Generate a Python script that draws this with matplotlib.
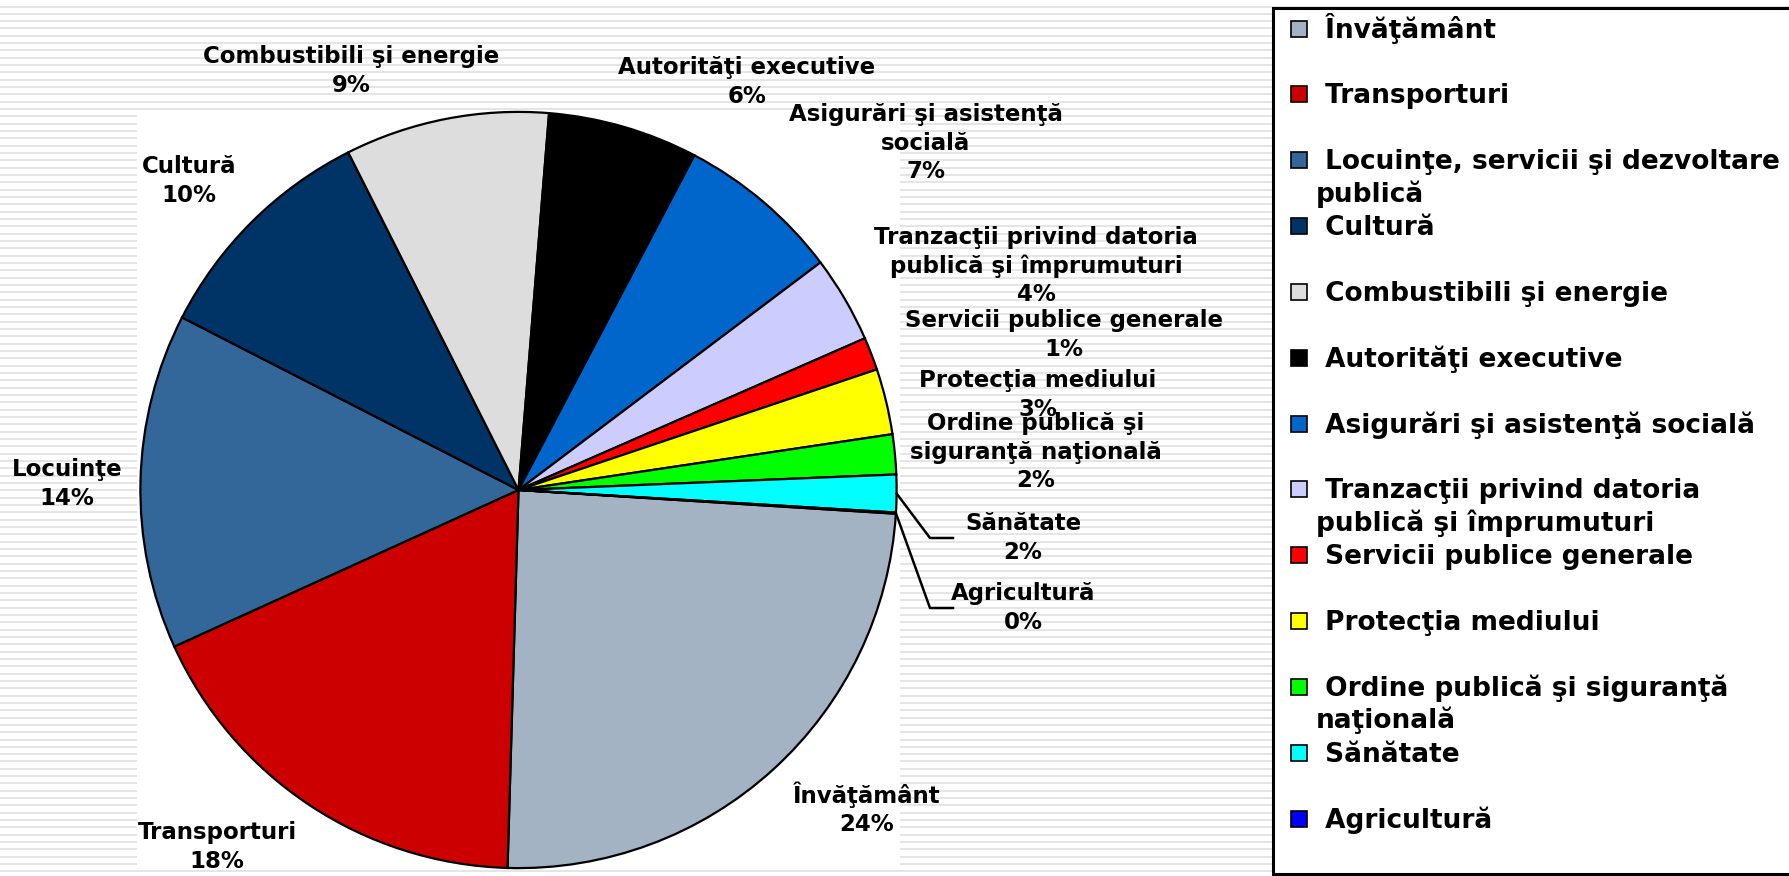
import numpy as np
import matplotlib
matplotlib.use("Agg")
import matplotlib.pyplot as plt
from matplotlib.patches import Rectangle

W, H = 1789, 876

# ── data ──
slice_names = ["Învăţământ", "Transporturi", "Locuinţe", "Cultură",
               "Combustibili şi energie", "Autorităţi executive",
               "Asigurări şi asistenţă\nsocială",
               "Tranzacţii privind datoria\npublică şi împrumuturi",
               "Servicii publice generale", "Protecţia mediului",
               "Ordine publică şi\nsiguranţă naţională", "Sănătate", "Agricultură"]
legend_names = ["Învăţământ", "Transporturi", "Locuinţe, servicii şi dezvoltare\npublică",
                "Cultură", "Combustibili şi energie", "Autorităţi executive",
                "Asigurări şi asistenţă socială",
                "Tranzacţii privind datoria\npublică şi împrumuturi",
                "Servicii publice generale", "Protecţia mediului",
                "Ordine publică şi siguranţă\nnaţională", "Sănătate", "Agricultură"]
shares = [24.4, 17.7, 14.3, 10.0, 8.7, 6.4, 7.0, 3.7, 1.4, 2.8, 1.7, 1.6, 0.05]
colors = ["#A3B3C4", "#CC0000", "#336699", "#003366", "#DDDDDD", "#000000", "#0066CC",
          "#CCCCFF", "#FF0000", "#FFFF00", "#00FF00", "#00FFFF", "#0000FF"]

# ── layout (pixel coords of the label block centres) ──
label_xy = [(867, 809), (217, 847), (67, 484), (189, 181), (351, 71), (747, 82),
            (926, 143), (1036, 266), (1064, 335), (1038, 395), (1036, 452),
            (1023, 538), (1023, 608)]
leaders = {11: (930, 953), 12: (930, 953)}   # knee x, end x

fig = plt.figure(figsize=(W / 100, H / 100), dpi=100)
bg = fig.add_axes([0, 0, 1, 1])
bg.set_xlim(0, W); bg.set_ylim(H, 0); bg.axis("off")
for y in np.arange(6.5, H, 7.33):
    bg.axhline(y, color="#E3E3E3", lw=1.3, zorder=0)
bg.add_patch(Rectangle((137, 110), 763, 760, fc="white", ec="none", zorder=1))
bg.add_patch(Rectangle((1273, 8), 540, 866, fc="white", ec="black", lw=2.2, zorder=1))

ax = fig.add_axes([137 / W, (H - 870) / H, 763 / W, 760 / H])
wedges, _ = ax.pie(shares, colors=colors, startangle=-3.6, counterclock=False,
                   wedgeprops=dict(edgecolor="black", linewidth=1.6))
ax.set_xlim(-1.005, 1.005); ax.set_ylim(-1.005, 1.005)
ax.set_aspect("equal")
ax.apply_aspect()
for w in wedges:
    w.set_clip_on(False)

for i, (x, y) in enumerate(label_xy):
    ax.text(x, y, f"{slice_names[i]}\n{round(shares[i])}%", transform=bg.transData,
            ha="center", va="center", fontsize=16.5, fontweight="bold", linespacing=1.29,
            zorder=5)

# leader lines for the two thin slices
for i, (kx, ex) in leaders.items():
    w = wedges[i]
    th = np.deg2rad((w.theta1 + w.theta2) / 2)
    sx, sy = bg.transData.inverted().transform(ax.transData.transform((np.cos(th), np.sin(th))))
    ly = label_xy[i][1]
    ax.plot([sx, kx, ex], [sy, ly, ly], color="black", lw=1.8, transform=bg.transData,
            clip_on=False, zorder=4)

# legend, drawn by hand so every entry gets the same slot height
for i, name in enumerate(legend_names):
    yc = 28.5 + 65.85 * i
    bg.add_patch(Rectangle((1291, yc - 8), 16, 16, fc=colors[i], ec="black", lw=1.2, zorder=3))
    for j, line in enumerate(name.split("\n")):
        bg.text(1316, yc + 9 + 32.5 * j, (" " if j == 0 else "") + line, fontsize=19,
                fontweight="bold", va="baseline", ha="left", zorder=3)

fig.savefig("out.png", dpi=100)
